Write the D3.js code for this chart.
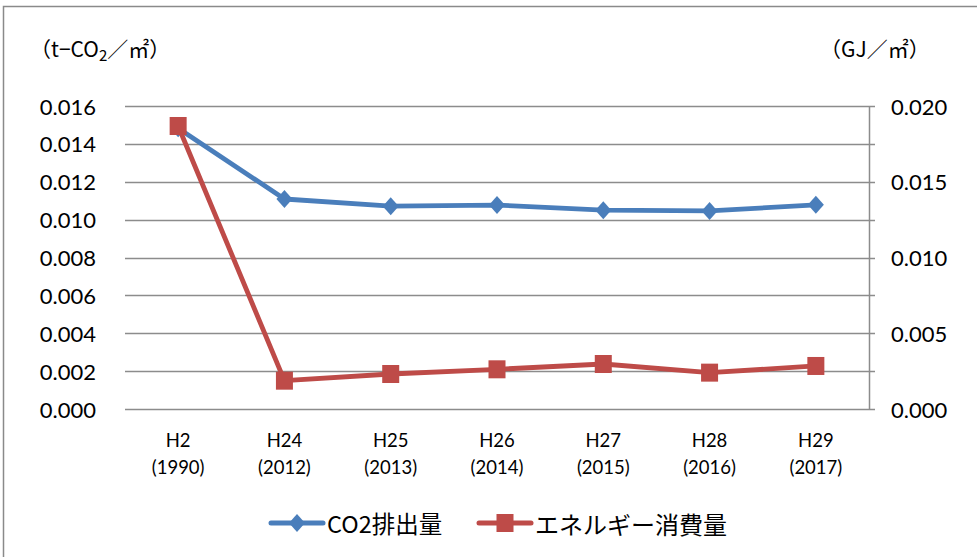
<!DOCTYPE html>
<html>
<head>
<meta charset="utf-8">
<script src="https://cdn.jsdelivr.net/npm/d3@7"></script>
<style>
  html, body { margin: 0; padding: 0; background: #fff; }
  svg { display: block; }
</style>
</head>
<body>
<svg id="chart" width="977" height="557"></svg>
<script>
// ---- data ----
const categories = ["H2", "H24", "H25", "H26", "H27", "H28", "H29"];
const years = ["(1990)", "(2012)", "(2013)", "(2014)", "(2015)", "(2016)", "(2017)"];
const co2Values = [0.01483, 0.01109, 0.01071, 0.01077, 0.01050, 0.01046, 0.01078];
const energyValues = [0.01868, 0.00187, 0.00231, 0.00262, 0.00297, 0.00240, 0.00284];
const leftTicks = [0, 0.002, 0.004, 0.006, 0.008, 0.010, 0.012, 0.014, 0.016];
const rightTicks = [0, 0.005, 0.010, 0.015, 0.020];
const seriesNames = ["CO2排出量", "エネルギー消費量"];

(function () {
const blue = "#4A7EBB", red = "#BE4B48", grid = "#8c8c8c";
const latin = "Lato, 'Liberation Sans', sans-serif";
const cjk = "'Noto Sans CJK JP', sans-serif";

const svg = d3.select("#chart");

// outer border
svg.append("rect").attr("x", 3.5).attr("y", 6.5).attr("width", 990).attr("height", 570)
  .attr("fill", "none").attr("stroke", "#8a8a8a").attr("stroke-width", 1.5);

const pL = 125, pR = 869, pT = 106, pB = 409;
const x = d3.scaleBand().domain(categories).range([pL, pR]).padding(0);
const yL = d3.scaleLinear().domain([0, 0.016]).range([pB, pT]);
const yR = d3.scaleLinear().domain([0, 0.020]).range([pB, pT]);
const cx = c => x(c) + x.bandwidth() / 2;

// gridlines
svg.append("g").selectAll("line").data(leftTicks).join("line")
  .attr("x1", pL).attr("x2", pR + 6)
  .attr("y1", d => Math.round(yL(d)) + 0.5).attr("y2", d => Math.round(yL(d)) + 0.5)
  .attr("stroke", grid).attr("stroke-width", 1.5);

// right axis line
svg.append("line").attr("x1", pR + 0.5).attr("x2", pR + 0.5)
  .attr("y1", pT).attr("y2", pB + 1).attr("stroke", grid).attr("stroke-width", 1.5);

// left tick labels
svg.append("g").selectAll("text").data(leftTicks).join("text")
  .attr("x", 96).attr("y", d => yL(d))
  .attr("text-anchor", "end").attr("dominant-baseline", "central")
  .style("font-family", latin).style("font-size", "22px").attr("fill", "#000")
  .text(d => d3.format(".3f")(d));

// right tick labels
svg.append("g").selectAll("text").data(rightTicks).join("text")
  .attr("x", 891).attr("y", d => yR(d))
  .attr("text-anchor", "start").attr("dominant-baseline", "central")
  .style("font-family", latin).style("font-size", "22px").attr("fill", "#000")
  .text(d => d3.format(".3f")(d));

// category labels
const cat = svg.append("g").selectAll("g").data(categories).join("g");
cat.append("text").attr("x", d => cx(d)).attr("y", 440)
  .attr("text-anchor", "middle").attr("dominant-baseline", "central")
  .style("font-family", latin).style("font-size", "18.5px").text(d => d);
cat.append("text").attr("x", d => cx(d)).attr("y", 467)
  .attr("text-anchor", "middle").attr("dominant-baseline", "central")
  .style("font-family", latin).style("font-size", "18.5px").text((d, i) => years[i]);

// unit labels
const unitL = svg.append("text").attr("x", 30).attr("y", 48).attr("dominant-baseline", "central")
  .style("font-family", cjk).style("font-size", "21px");
unitL.append("tspan").text("（t−CO");
unitL.append("tspan").attr("dy", 6).style("font-size", "15px").text("2");
unitL.append("tspan").attr("dy", -6).text("／㎡）");
svg.append("text").attr("x", 820).attr("y", 48).attr("dominant-baseline", "central")
  .style("font-family", cjk).style("font-size", "21px").text("（GJ／㎡）");

// lines
const lineL = d3.line().x((d, i) => cx(categories[i])).y(d => yL(d));
const lineR = d3.line().x((d, i) => cx(categories[i])).y(d => yR(d));
const diamond = (g, px, py) => g.append("path")
  .attr("d", `M${px},${py - 9} L${px + 8},${py} L${px},${py + 9} L${px - 8},${py} Z`)
  .attr("fill", blue);
const square = (g, px, py) => g.append("rect")
  .attr("x", px - 8.5).attr("y", py - 9).attr("width", 17).attr("height", 18)
  .attr("fill", red);

const gB = svg.append("g");
gB.append("path").datum(co2Values).attr("d", lineL).attr("fill", "none")
  .attr("stroke", blue).attr("stroke-width", 4.8).attr("stroke-linejoin", "round");
co2Values.forEach((v, i) => diamond(gB, cx(categories[i]), yL(v)));

const gR = svg.append("g");
gR.append("path").datum(energyValues).attr("d", lineR).attr("fill", "none")
  .attr("stroke", red).attr("stroke-width", 4.8).attr("stroke-linejoin", "round");
energyValues.forEach((v, i) => square(gR, cx(categories[i]), yR(v)));

// legend
const ly = 523;
const lg = svg.append("g");
lg.append("line").attr("x1", 271).attr("x2", 323).attr("y1", ly).attr("y2", ly)
  .attr("stroke", blue).attr("stroke-width", 5).attr("stroke-linecap", "round");
diamond(lg, 297, ly);
lg.append("text").attr("x", 327).attr("y", ly).attr("dominant-baseline", "central")
  .style("font-family", cjk).style("font-size", "23.5px").text(seriesNames[0]);
lg.append("line").attr("x1", 479).attr("x2", 531).attr("y1", ly).attr("y2", ly)
  .attr("stroke", red).attr("stroke-width", 5).attr("stroke-linecap", "round");
square(lg, 505, ly);
lg.append("text").attr("x", 535).attr("y", ly).attr("dominant-baseline", "central")
  .style("font-family", cjk).style("font-size", "24px").text(seriesNames[1]);
})();
</script>
</body>
</html>
